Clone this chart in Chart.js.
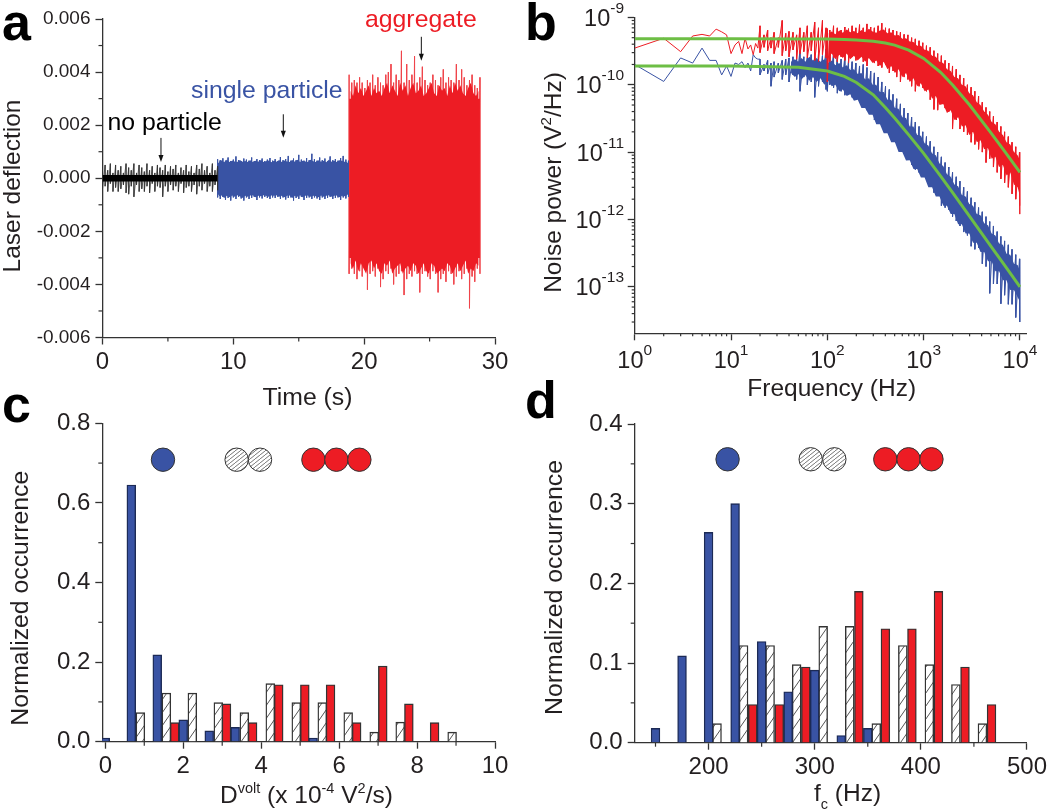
<!DOCTYPE html>
<html>
<head>
<meta charset="utf-8">
<title>Laser deflection, noise power and histograms</title>
<script src="https://cdn.jsdelivr.net/npm/chart.js@4"></script>
<style>
  html, body { margin: 0; background: #fff; }
  #page { position: relative; width: 1050px; height: 811px; overflow: hidden; }
  canvas { position: absolute; }
</style>
</head>
<body>
<div id="page">
  <canvas id="panelA" width="525" height="420" style="left:0;top:0"></canvas>
  <canvas id="panelB" width="525" height="420" style="left:525px;top:0"></canvas>
  <canvas id="panelC" width="525" height="436" style="left:0;top:375px"></canvas>
  <canvas id="panelD" width="525" height="436" style="left:525px;top:375px"></canvas>
</div>
<script>
// Panel a: time trace, envelope columns
const blackTimes = [0,0.2,0.4,0.6,0.8,1,1.2,1.4,1.6,1.8,2,2.2,2.4,2.6,2.8,3,3.2,3.4,3.6,3.8,4,4.2,4.4,4.6,4.8,5,5.2,5.4,5.6,5.8,6,6.2,6.4,6.6,6.8,7,7.2,7.4,7.6,7.8,8,8.2,8.4,8.6,8.8];
const blackHigh = [0.0004,0.0005,0.0003,0.00055,0.0002,0.0005,0.0003,0.00045,0.0002,0.00055,0.0004,0.0003,0.00055,0.0002,0.0005,0.0004,0.00025,0.00055,0.0003,0.00045,0.0002,0.0005,0.0004,0.0003,0.0005,0.00025,0.00045,0.00035,0.0005,0.0002,0.0004,0.0003,0.0005,0.00025,0.00045,0.0002,0.0005,0.00035,0.00055,0.0003,0.00045,0.0002,0.00055,0.0003,0.00045];
const blackLow = [-0.0004,-0.0003,-0.0005,-0.0002,-0.0005,-0.00035,-0.0005,-0.0004,-0.00025,-0.00055,-0.0006,-0.0003,-0.0007,-0.00025,-0.0005,-0.0004,-0.0005,-0.0003,-0.00055,-0.0002,-0.0005,-0.0003,-0.00035,-0.0007,-0.0003,-0.0005,-0.00025,-0.00045,-0.0003,-0.0005,-0.0002,-0.00055,-0.00035,-0.0003,-0.0005,-0.00025,-0.0006,-0.0003,-0.00045,-0.0002,-0.0005,-0.0003,-0.0005,-0.00025,-0.00045];
const blueTimes = [8.8,9,9.2,9.4,9.6,9.8,10,10.2,10.4,10.6,10.8,11,11.2,11.4,11.6,11.8,12,12.2,12.4,12.6,12.8,13,13.2,13.4,13.6,13.8,14,14.2,14.4,14.6,14.8,15,15.2,15.4,15.6,15.8,16,16.2,16.4,16.6,16.8,17,17.2,17.4,17.6,17.8,18,18.2,18.4,18.6,18.8];
const blueHigh = [0.00072,0.00068,0.00075,0.00066,0.00078,0.00065,0.0007,0.00082,0.00068,0.00064,0.00074,0.0007,0.00066,0.00078,0.00065,0.00072,0.00068,0.00074,0.00064,0.0007,0.00076,0.00066,0.00072,0.00064,0.0008,0.00068,0.00072,0.00084,0.00066,0.00074,0.00068,0.00088,0.0007,0.00066,0.00076,0.00068,0.00092,0.00072,0.00066,0.00078,0.00068,0.00074,0.00064,0.00082,0.00068,0.00072,0.00066,0.00076,0.00084,0.0007,0.00066];
const blueLow = [-0.00072,-0.00078,-0.0007,-0.00082,-0.00074,-0.00084,-0.00072,-0.00078,-0.0007,-0.00076,-0.00084,-0.00072,-0.00078,-0.00074,-0.0007,-0.00082,-0.00072,-0.00076,-0.0007,-0.00074,-0.00078,-0.00072,-0.00074,-0.0007,-0.00078,-0.00072,-0.0008,-0.00074,-0.00072,-0.00084,-0.00074,-0.00078,-0.0007,-0.00082,-0.00074,-0.00072,-0.00078,-0.00072,-0.00076,-0.00082,-0.00072,-0.00078,-0.00074,-0.0007,-0.00078,-0.00074,-0.00072,-0.00082,-0.00072,-0.00076,-0.0007];
const blueInnerTimes = [8.9,9.1,9.3,9.5,9.7,9.9,10.1,10.3,10.5,10.7,10.9,11.1,11.3,11.5,11.7,11.9,12.1,12.3,12.5,12.7,12.9,13.1,13.3,13.5,13.7,13.9,14.1,14.3,14.5,14.7,14.9,15.1,15.3,15.5,15.7,15.9,16.1,16.3,16.5,16.7,16.9,17.1,17.3,17.5,17.7,17.9,18.1,18.3,18.5,18.7];
const blueInnerHigh = [0.00062,0.00068,0.0006,0.0007,0.00061,0.00066,0.00063,0.00061,0.00069,0.00062,0.00065,0.00061,0.00068,0.0006,0.00066,0.00062,0.00069,0.00061,0.00064,0.00067,0.0006,0.00066,0.00062,0.00069,0.00061,0.00067,0.00063,0.00061,0.00069,0.00062,0.0007,0.00061,0.00066,0.00063,0.00061,0.0007,0.00064,0.00061,0.00068,0.00062,0.00066,0.0006,0.0007,0.00062,0.00066,0.00061,0.00068,0.00066,0.00062,0.00061];
const blueInnerLow = [-0.00068,-0.00065,-0.00074,-0.00066,-0.00072,-0.00065,-0.0007,-0.00064,-0.00068,-0.00074,-0.00066,-0.0007,-0.00065,-0.00064,-0.00072,-0.00066,-0.00068,-0.00064,-0.00066,-0.0007,-0.00065,-0.00066,-0.00064,-0.0007,-0.00066,-0.00072,-0.00066,-0.00065,-0.00074,-0.00066,-0.0007,-0.00064,-0.00072,-0.00066,-0.00065,-0.0007,-0.00066,-0.00068,-0.00072,-0.00065,-0.0007,-0.00066,-0.00064,-0.0007,-0.00066,-0.00065,-0.00072,-0.00066,-0.00068,-0.00064];
const redTimes = [18.85,19.05,19.25,19.45,19.65,19.85,20.05,20.25,20.45,20.65,20.85,21.05,21.25,21.45,21.65,21.85,22.05,22.25,22.45,22.65,22.85,23.05,23.25,23.45,23.65,23.85,24.05,24.25,24.45,24.65,24.85,25.05,25.25,25.45,25.65,25.85,26.05,26.25,26.45,26.65,26.85,27.05,27.25,27.45,27.65,27.85,28.05,28.25,28.45,28.65,28.85];
const redHigh = [0.0039,0.0036,0.0037,0.0036,0.0038,0.0036,0.0034,0.0037,0.0036,0.0039,0.0035,0.0038,0.0036,0.0035,0.0039,0.004,0.0043,0.0036,0.0039,0.0037,0.0048,0.0036,0.0043,0.0037,0.0039,0.0046,0.0036,0.0038,0.0042,0.0037,0.0035,0.0036,0.0039,0.0037,0.0035,0.0038,0.0041,0.0036,0.0038,0.0037,0.0036,0.0043,0.0037,0.0041,0.0038,0.0035,0.0037,0.0039,0.0035,0.0034,0.0038];
const redLow = [-0.0036,-0.0034,-0.0036,-0.0038,-0.0035,-0.0037,-0.0034,-0.0042,-0.0036,-0.0035,-0.0037,-0.0034,-0.0041,-0.0038,-0.0035,-0.0036,-0.0034,-0.004,-0.0037,-0.0036,-0.0035,-0.0044,-0.0038,-0.0036,-0.0037,-0.0035,-0.0036,-0.0043,-0.0036,-0.0035,-0.0037,-0.0038,-0.0035,-0.0036,-0.0043,-0.0038,-0.0036,-0.0039,-0.0035,-0.0036,-0.004,-0.0037,-0.0035,-0.0038,-0.0036,-0.0034,-0.0049,-0.0037,-0.0039,-0.0034,-0.0036];
const redInnerTimes = [18.95,19.15,19.35,19.55,19.75,19.95,20.15,20.35,20.55,20.75,20.95,21.15,21.35,21.55,21.75,21.95,22.15,22.35,22.55,22.75,22.95,23.15,23.35,23.55,23.75,23.95,24.15,24.35,24.55,24.75,24.95,25.15,25.35,25.55,25.75,25.95,26.15,26.35,26.55,26.75,26.95,27.15,27.35,27.55,27.75,27.95,28.15,28.35,28.55,28.75];
const redInnerHigh = [0.0033,0.0031,0.0035,0.0032,0.0034,0.0031,0.0033,0.0035,0.0031,0.0034,0.0032,0.0033,0.0031,0.0034,0.0036,0.0032,0.0035,0.0033,0.0031,0.0036,0.0033,0.0035,0.0031,0.0034,0.0036,0.0032,0.0033,0.0035,0.0031,0.0032,0.0034,0.0036,0.0032,0.0031,0.0035,0.0033,0.0034,0.0031,0.0035,0.0032,0.0036,0.0033,0.0035,0.0032,0.0031,0.0034,0.0036,0.0032,0.0031,0.0033];
const redInnerLow = [-0.0032,-0.0034,-0.0031,-0.0035,-0.0032,-0.0034,-0.0036,-0.0032,-0.0031,-0.0034,-0.0032,-0.0035,-0.0036,-0.0032,-0.0033,-0.0031,-0.0036,-0.0034,-0.0033,-0.0032,-0.0036,-0.0034,-0.0033,-0.0035,-0.0032,-0.0033,-0.0036,-0.0034,-0.0032,-0.0035,-0.0036,-0.0032,-0.0033,-0.0036,-0.0035,-0.0034,-0.0035,-0.0032,-0.0033,-0.0036,-0.0034,-0.0032,-0.0035,-0.0033,-0.0031,-0.0036,-0.0034,-0.0035,-0.0032,-0.0033];
const blackCoreTimes = [0, 8.8];
const blackCoreHigh = [0.00012, 0.00012];
const blackCoreLow = [-0.00012, -0.00012];
const blueCoreTimes = [8.8, 18.85];
const blueCoreHigh = [0.00058, 0.00058];
const blueCoreLow = [-0.00062, -0.00062];
const redCoreTimes = [18.85, 28.85];
const redCoreHigh = [0.003, 0.003];
const redCoreLow = [-0.003, -0.003];
const arrowTimes = [4.47, 13.82, 24.37];
const arrowStart = [0.00152, 0.00241, 0.00533];
const arrowEnd = [0.00061, 0.00153, 0.00443];

// Panel b: spectra. Integer bins at low frequency, then envelope columns
const lowFreqs = [1,2,3,4,5,6,7,8,9,10,11,12,13,14,15,16,17,18,19];
const redLowFreq = [3.5e-10,4.9e-10,3.1e-10,5.3e-10,5.6e-10,5.3e-10,6.7e-10,6.1e-10,5.5e-10,2.9e-10,3.9e-10,4.4e-10,2.9e-10,4.9e-10,3.4e-10,3.9e-10,2.8e-10,4.1e-10,3.5e-10];
const blueLowFreq = [2e-10,1.12e-10,2.5e-10,2.1e-10,3.5e-10,2.3e-10,2.3e-10,1.4e-10,1.9e-10,1.33e-10,2.1e-10,2e-10,2.2e-10,1.8e-10,2.1e-10,1.6e-10,2.8e-10,2.5e-10,2.4e-10];
const noiseFreqs = [20,22,24,26,28,31,34,37,40,44,48,52,57,62,68,74,81,89,97,100,106,116,127,139,152,166,181,198,216,236,258,282,308,337,368,402,440,481,525,574,627,686,750,820,896,979,1070,1170,1279,1398,1528,1670,1825,1995,2180,2383,2605,2847,3112,3401,3718,4063,4441,4854,5305,5798,6337,6927,7571,8275,9044,9885,10000];
const redNoiseHigh = [7.5e-10,5.5e-10,6.5e-10,5e-10,6e-10,5e-10,9e-10,5.8e-10,6.2e-10,6e-10,5.5e-10,7e-10,6e-10,7.5e-10,6e-10,8.5e-10,7e-10,9e-10,7e-10,6.8e-10,6.5e-10,7.5e-10,7e-10,6.5e-10,7.2e-10,6.8e-10,7.5e-10,7e-10,7.8e-10,7e-10,8e-10,7.2e-10,7e-10,7.5e-10,8.2e-10,7e-10,6.8e-10,6.5e-10,6.2e-10,6e-10,5.6e-10,5.5e-10,5e-10,4.8e-10,4.5e-10,4.2e-10,3.8e-10,3.6e-10,3.2e-10,2.9e-10,2.7e-10,2.3e-10,2.1e-10,1.9e-10,1.7e-10,1.4e-10,1.25e-10,1e-10,9.2e-11,8e-11,6.8e-11,5.5e-11,4.6e-11,4e-11,3.4e-11,2.8e-11,2.4e-11,2e-11,1.7e-11,1.4e-11,1.2e-11,1e-11,9.5e-12];
const redNoiseLow = [3e-10,3.6e-10,3.2e-10,3.5e-10,2.9e-10,3.6e-10,2.7e-10,3.2e-10,2.6e-10,3.3e-10,2.4e-10,2.9e-10,3.1e-10,2.5e-10,3.2e-10,2.3e-10,2.2e-10,2.8e-10,2.5e-10,1.1e-10,2.2e-10,2.5e-10,2.2e-10,2.6e-10,2.3e-10,2.1e-10,2.6e-10,2.3e-10,2.5e-10,2.2e-10,1.9e-10,2.4e-10,2.1e-10,1.9e-10,1.8e-10,2e-10,1.5e-10,1.6e-10,1.3e-10,1.1e-10,1.3e-10,1.2e-10,9.5e-11,8e-11,9.5e-11,9e-11,8e-11,6e-11,4.3e-11,4.2e-11,5.5e-11,4.5e-11,4e-11,2.2e-11,3e-11,2.2e-11,2e-11,1.8e-11,1.4e-11,1.3e-11,1.1e-11,1e-11,7e-12,8e-12,6e-12,5e-12,4e-12,3.5e-12,3e-12,2.4e-12,2e-12,1.2e-12,1.6e-12];
const blueNoiseHigh = [2.4e-10,2e-10,2.3e-10,2.1e-10,2.2e-10,2.1e-10,2.3e-10,2.4e-10,2.5e-10,2.6e-10,2.4e-10,3.2e-10,2.6e-10,2.5e-10,2.8e-10,2.6e-10,2.9e-10,2.7e-10,3.4e-10,2.4e-10,2.6e-10,3e-10,2.5e-10,2.4e-10,2.6e-10,2.3e-10,2.2e-10,2.1e-10,1.9e-10,2e-10,1.8e-10,1.6e-10,1.5e-10,1.3e-10,1.1e-10,9.5e-11,8.5e-11,7.2e-11,6.2e-11,5.2e-11,4.5e-11,3.8e-11,3.3e-11,2.8e-11,2.4e-11,2e-11,1.7e-11,1.45e-11,1.2e-11,1e-11,8.5e-12,7e-12,6e-12,5e-12,4.3e-12,3.7e-12,3e-12,2.6e-12,2.1e-12,1.8e-12,1.5e-12,1.3e-12,1.1e-12,9.3e-13,8e-13,6.6e-13,5.6e-13,4.8e-13,4.2e-13,3.6e-13,3e-13,2.6e-13,2.4e-13];
const blueNoiseLow = [1.4e-10,1.6e-10,1.45e-10,9.5e-11,1.3e-10,1.5e-10,1.2e-10,1.4e-10,1.1e-10,1.4e-10,1.2e-10,8e-11,1.3e-10,1e-10,1.1e-10,6.5e-11,9.5e-11,1.1e-10,8.5e-11,8e-11,1e-10,9e-11,7.5e-11,8e-11,7e-11,7.5e-11,6.5e-11,6e-11,5.5e-11,5e-11,4.2e-11,4e-11,3e-11,2.8e-11,2.8e-11,2e-11,2.2e-11,1.6e-11,1.5e-11,1.2e-11,1.1e-11,8e-12,6.5e-12,5.5e-12,5e-12,5e-12,4e-12,3.5e-12,2.5e-12,2.4e-12,1.6e-12,1.5e-12,1.4e-12,1.1e-12,9.5e-13,8e-13,6.5e-13,5.8e-13,4e-13,3.6e-13,3.8e-13,2.2e-13,2e-13,8e-14,1.1e-13,1.1e-13,5.6e-14,7.5e-14,5.5e-14,5.5e-14,3.5e-14,3e-14,3e-14];
// solid part of each band, ragged edge between the columns above
const redBandFreqs = [103,111,121,133,145,159,173,189,207,226,247,270,295,322,352,385,421,460,503,549,600,656,717,784,857,936,1023,1119,1224,1337,1462,1598,1746,1909,2085,2280,2492,2725,2978,3256,3560,3891,4254,4650,5084,5557,6074,6640,7258,7933,8670,9463,10000];
const redBandHigh = [5.8e-10,6.2e-10,5.6e-10,6.4e-10,5.9e-10,6.6e-10,6e-10,6.3e-10,5.8e-10,6.5e-10,6e-10,6.8e-10,6.2e-10,5.9e-10,6.4e-10,6.6e-10,5.8e-10,6e-10,5.4e-10,5.5e-10,4.8e-10,4.9e-10,4.4e-10,4.3e-10,3.8e-10,3.8e-10,3.3e-10,3.2e-10,2.7e-10,2.6e-10,2.2e-10,2.1e-10,1.7e-10,1.6e-10,1.3e-10,1.25e-10,1e-10,9.5e-11,7.5e-11,7e-11,5.5e-11,5e-11,4e-11,3.6e-11,2.8e-11,2.6e-11,2e-11,1.8e-11,1.4e-11,1.3e-11,1e-11,9e-12,7.5e-12];
const redBandLow = [2.6e-10,2.9e-10,2.4e-10,2.8e-10,2.5e-10,2.9e-10,2.4e-10,2.7e-10,2.3e-10,2.6e-10,2.2e-10,2.5e-10,2.1e-10,2.3e-10,1.9e-10,2.2e-10,1.7e-10,1.9e-10,1.5e-10,1.7e-10,1.3e-10,1.5e-10,1.1e-10,1.25e-10,9.5e-11,1.05e-10,8e-11,8.5e-11,6.2e-11,6.8e-11,5e-11,5.2e-11,3.8e-11,4.2e-11,3e-11,3.3e-11,2.4e-11,2.5e-11,1.8e-11,2e-11,1.4e-11,1.5e-11,1.1e-11,1.15e-11,8e-12,8.5e-12,6e-12,6.5e-12,4.5e-12,5e-12,3.3e-12,3e-12,2.2e-12];
const blueBandFreqs = [42,46,50,54,59,65,71,77,85,93,103,111,121,133,145,159,173,189,207,226,247,270,295,322,352,385,421,460,503,549,600,656,717,784,857,936,1023,1119,1224,1337,1462,1598,1746,1909,2085,2280,2492,2725,2978,3256,3560,3891,4254,4650,5084,5557,6074,6640,7258,7933,8670,9463,10000];
const blueBandHigh = [2.2e-10,2.4e-10,2.2e-10,2.5e-10,2.2e-10,2.6e-10,2.3e-10,2.5e-10,2.2e-10,2.4e-10,2.1e-10,2.3e-10,1.95e-10,2.1e-10,1.8e-10,1.95e-10,1.65e-10,1.7e-10,1.45e-10,1.5e-10,1.2e-10,1.25e-10,1e-10,1e-10,7.8e-11,7.8e-11,6e-11,6e-11,4.5e-11,4.4e-11,3.3e-11,3.2e-11,2.4e-11,2.4e-11,1.8e-11,1.75e-11,1.35e-11,1.25e-11,9.5e-12,9e-12,6.8e-12,6.2e-12,4.7e-12,4.3e-12,3.3e-12,3.1e-12,2.3e-12,2.2e-12,1.7e-12,1.6e-12,1.2e-12,1.15e-12,8.8e-13,8.2e-13,6.2e-13,5.8e-13,4.4e-13,4.2e-13,3.1e-13,3e-13,2.2e-13,2.1e-13,1.7e-13];
const blueBandLow = [1.5e-10,1.3e-10,1.45e-10,1.2e-10,1.4e-10,1.15e-10,1.3e-10,1.1e-10,1.25e-10,1e-10,1.15e-10,9.5e-11,1e-10,8e-11,8.5e-11,6.8e-11,7.2e-11,5.8e-11,6e-11,4.5e-11,4.5e-11,3.6e-11,3.6e-11,2.6e-11,2.6e-11,1.9e-11,1.9e-11,1.4e-11,1.4e-11,1e-11,1e-11,7.5e-12,7.6e-12,5.6e-12,5.6e-12,4.2e-12,4.2e-12,3e-12,3e-12,2.2e-12,2.2e-12,1.6e-12,1.6e-12,1.2e-12,1.2e-12,8.5e-13,8.5e-13,6.2e-13,6.2e-13,4.5e-13,4.5e-13,3.3e-13,3.3e-13,2.4e-13,2.4e-13,1.7e-13,1.7e-13,1.25e-13,1.25e-13,9e-14,9e-14,7e-14,6e-14];
const fitFreqs = [1,10,50,100,150,200,300,400,500,700,1000,1500,2000,3000,5000,7000,10000];
const redFit = [4.8e-10,4.8e-10,4.79e-10,4.76e-10,4.7e-10,4.62e-10,4.42e-10,4.17e-10,3.88e-10,3.27e-10,2.46e-10,1.53e-10,9.9e-11,5e-11,1.93e-11,1.01e-11,5e-12];
const blueFit = [1.9e-10,1.9e-10,1.82e-10,1.6e-10,1.33e-10,1.08e-10,7.1e-11,4.6e-11,3.2e-11,1.8e-11,9.6e-12,4.4e-12,2.5e-12,1.11e-12,4e-13,2.05e-13,1e-13];
const freqExponents = [0,1,2,3,4];
const powerExponents = [-9,-10,-11,-12,-13];

// Panel c: histogram of D volt
const dBlueBins = [0,0.667,1.333,2,2.667,3.333,5.333];
const dBlueValues = [0.009,0.645,0.218,0.055,0.027,0.036,0.009];
const dHatchBins = [0.9,1.567,2.233,2.9,3.567,4.233,4.9,5.567,6.233,6.9,7.567,8.9];
const dHatchValues = [0.073,0.122,0.122,0.098,0.073,0.146,0.098,0.098,0.073,0.024,0.049,0.024];
const dRedBins = [1.78,3.11,3.78,4.45,5.12,5.78,6.45,7.12,7.79,8.45];
const dRedValues = [0.048,0.095,0.048,0.143,0.143,0.143,0.048,0.19,0.095,0.048];
const dBlueCircleX = [1.48];
const dHatchCircleX = [3.37,3.97];
const dRedCircleX = [5.34,5.93,6.52];
const dCircleY = 0.7085;

// Panel d: histogram of corner frequency
const fBlueBins = [150,175,200,225,250,275,300,325,350];
const fBlueValues = [0.018,0.109,0.264,0.3,0.127,0.064,0.091,0.009,0.018];
const fHatchBins = [208,233,258,283,308,333,358,383,408,433,458];
const fHatchValues = [0.024,0.122,0.122,0.098,0.146,0.146,0.024,0.122,0.098,0.073,0.024];
const fRedBins = [241.6,266.6,291.6,341.6,366.6,391.6,416.6,441.6,466.6];
const fRedValues = [0.048,0.048,0.095,0.19,0.143,0.143,0.19,0.095,0.048];
const fBlueCircleX = [217.9];
const fHatchCircleX = [296.2,318.5];
const fRedCircleX = [366.5,388.4,410];
const fCircleY = 0.3557;

const RED = '#ed1c24', BLUE = '#3953a4', GREEN = '#6dbe45', INK = '#231f20', AXIS = '#333333';
const FONT = '"Liberation Sans", Arial, sans-serif';

const pairs = (xs, ys) => xs.map((x, i) => ({ x, y: ys[i] }));
// one column per x, from the high value to the low value
function zigzag(xs, highs, lows) {
  const pts = [];
  xs.forEach((x, i) => { pts.push({ x, y: highs[i] }); pts.push({ x, y: lows[i] }); });
  return pts;
}
function traceSet(data, color, width) {
  return { data, borderColor: color, borderWidth: width, pointRadius: 0, tension: 0, fill: false };
}
function bandSets(xs, highs, lows, color) {
  return [
    { data: pairs(xs, highs), borderColor: color, backgroundColor: color, borderWidth: 0, pointRadius: 0, tension: 0, fill: '+1' },
    { data: pairs(xs, lows), borderColor: color, borderWidth: 0, pointRadius: 0, tension: 0, fill: false }
  ];
}

function hatch(w, h, color, lineWidth) {
  const c = document.createElement('canvas');
  c.width = w; c.height = h;
  const g = c.getContext('2d');
  g.fillStyle = '#fff';
  g.fillRect(0, 0, w, h);
  g.strokeStyle = color;
  g.lineWidth = lineWidth;
  [-w, 0, w].forEach(dx => {
    g.beginPath();
    g.moveTo(dx, h);
    g.lineTo(dx + w, 0);
    g.stroke();
  });
  return g.createPattern(c, 'repeat');
}
const barHatch = hatch(9, 13, '#555', 1);
const circleHatch = hatch(5, 4, '#666', 0.9);

// mixed size text: parts are {t, s, dy}
function richText(ctx, parts, x, y, align, rotate) {
  ctx.save();
  ctx.translate(x, y);
  if (rotate) ctx.rotate(-Math.PI / 2);
  ctx.textAlign = 'left';
  ctx.textBaseline = 'alphabetic';
  let total = 0;
  const widths = parts.map(p => {
    ctx.font = (p.b ? 'bold ' : '') + p.s + 'px ' + FONT;
    const w = ctx.measureText(p.t).width + (p.gap || 0);
    total += w;
    return w;
  });
  let cx = align === 'center' ? -total / 2 : align === 'right' ? -total : 0;
  parts.forEach((p, i) => {
    ctx.font = (p.b ? 'bold ' : '') + p.s + 'px ' + FONT;
    ctx.fillStyle = p.c || INK;
    ctx.fillText(p.t, cx, p.dy || 0);
    cx += widths[i];
  });
  ctx.restore();
}

const decor = {
  id: 'decor',
  afterDatasetsDraw(chart, args, opts) {
    const ctx = chart.ctx;
    const { x: xs, y: ys } = chart.scales;
    ctx.save();
    ctx.strokeStyle = AXIS;
    ctx.lineWidth = 1.2;
    (opts.minorX || []).forEach(v => {
      const px = xs.getPixelForValue(v);
      ctx.beginPath(); ctx.moveTo(px, ys.bottom); ctx.lineTo(px, ys.bottom + (opts.minorLen || 4)); ctx.stroke();
    });
    (opts.minorY || []).forEach(v => {
      const py = ys.getPixelForValue(v);
      ctx.beginPath(); ctx.moveTo(xs.left, py); ctx.lineTo(xs.left - (opts.minorLen || 4), py); ctx.stroke();
    });
    // arrows
    ctx.strokeStyle = '#111';
    ctx.fillStyle = '#111';
    ctx.lineWidth = 1;
    (opts.arrows || []).forEach(a => {
      const px = xs.getPixelForValue(a.x), y0 = ys.getPixelForValue(a.from), y1 = ys.getPixelForValue(a.to);
      ctx.beginPath(); ctx.moveTo(px, y0); ctx.lineTo(px, y1 - 6); ctx.stroke();
      ctx.beginPath(); ctx.moveTo(px - 2.5, y1 - 7); ctx.lineTo(px + 2.5, y1 - 7); ctx.lineTo(px, y1); ctx.closePath(); ctx.fill();
    });
    ctx.restore();
    (opts.expX || []).forEach(n => richText(ctx, [{ t: '10', s: 23.5 }, { t: String(n), s: 15.5, dy: -13 }], xs.getPixelForValue(Math.pow(10, n)), opts.expXBase, 'center'));
    (opts.expY || []).forEach(n => richText(ctx, [{ t: '10', s: 23.5 }, { t: String(n), s: 15.5, dy: -13 }], opts.expYRight, ys.getPixelForValue(Math.pow(10, n)) + 8.5, 'right'));
    (opts.texts || []).forEach(t => richText(ctx, t.parts, t.x, t.y, t.align, t.rotate));
  }
};
Chart.register(decor);

function axis(min, max, opts) {
  const o = Object.assign({
    type: 'linear', min, max, offset: false,
    border: { color: AXIS, width: 1.3 },
    grid: { drawOnChartArea: false, drawTicks: true, tickLength: 7, tickColor: AXIS, tickWidth: 1.3, offset: false },
    ticks: {}
  }, opts);
  o.ticks = Object.assign({
    color: INK, font: { family: FONT, size: 24 }, padding: 3, maxRotation: 0, autoSkip: false, includeBounds: false
  }, opts.ticks);
  return o;
}
function frame(type, data, box, scales, decorOpts) {
  scales.x.afterFit = s => { s.height = box.h - box.bottom; };
  scales.y.afterFit = s => { s.width = box.left; };
  return {
    type, data,
    options: {
      responsive: false,
      animation: false,
      events: [],
      layout: { autoPadding: false, padding: { left: 0, top: box.top, right: box.w - box.right, bottom: 0 } },
      plugins: { legend: { display: false }, tooltip: { enabled: false }, decor: decorOpts },
      scales
    }
  };
}

// ---- panel a
new Chart(document.getElementById('panelA'), frame('line', {
  datasets: [
    ...bandSets(blackCoreTimes, blackCoreHigh, blackCoreLow, '#000'),
    traceSet(zigzag(blackTimes, blackHigh, blackLow), '#333', 0.7),
    ...bandSets(blueCoreTimes, blueCoreHigh, blueCoreLow, BLUE),
    ...bandSets(blueInnerTimes, blueInnerHigh, blueInnerLow, BLUE),
    traceSet(zigzag(blueTimes, blueHigh, blueLow), BLUE, 0.8),
    ...bandSets(redCoreTimes, redCoreHigh, redCoreLow, RED),
    ...bandSets(redInnerTimes, redInnerHigh, redInnerLow, RED),
    traceSet(zigzag(redTimes, redHigh, redLow), '#f0444a', 0.8)
  ]
}, { w: 525, h: 420, left: 102.5, right: 495, top: 19, bottom: 337.5 }, {
  x: axis(0, 30, { ticks: { stepSize: 10 } }),
  y: axis(-0.006, 0.006, { ticks: { stepSize: 0.002, padding: 5, font: { family: FONT, size: 19 }, callback: v => v.toFixed(3) } })
}, {
  minorX: [5, 15, 25],
  minorY: [-0.005, -0.003, -0.001, 0.001, 0.003, 0.005],
  arrows: arrowTimes.map((x, i) => ({ x, from: arrowStart[i], to: arrowEnd[i] })),
  texts: [
    { parts: [{ t: 'a', s: 52, b: true, c: '#000' }], x: 2, y: 40 },
    { parts: [{ t: 'no particle', s: 24.8, c: '#000' }], x: 107.5, y: 130 },
    { parts: [{ t: 'single particle', s: 24.8, c: BLUE }], x: 191, y: 98 },
    { parts: [{ t: 'aggregate', s: 24.8, c: RED }], x: 365, y: 27 },
    { parts: [{ t: 'Time (s)', s: 24.8 }], x: 307.5, y: 405, align: 'center' },
    { parts: [{ t: 'Laser deflection', s: 24.5 }], x: 19.5, y: 186, align: 'center', rotate: true }
  ]
}));

// ---- panel b
const logMinors = [];
[1, 10, 100, 1000].forEach(d => [2,3,4,5,6,7,8,9].forEach(m => logMinors.push(d * m)));
const powerMinors = [];
[1e-10, 1e-11, 1e-12, 1e-13].forEach(d => [2,3,4,5,6,7,8,9].forEach(m => powerMinors.push(d * m)));
[3e-14, 4e-14, 5e-14, 6e-14, 7e-14, 8e-14, 9e-14].forEach(v => powerMinors.push(v));

new Chart(document.getElementById('panelB'), frame('line', {
  datasets: [
    traceSet(pairs(fitFreqs, redFit), GREEN, 3),
    traceSet(pairs(fitFreqs, blueFit), GREEN, 3),
    ...bandSets(redBandFreqs, redBandHigh, redBandLow, RED),
    traceSet(pairs(lowFreqs, redLowFreq).concat(zigzag(noiseFreqs, redNoiseHigh, redNoiseLow)), RED, 1),
    ...bandSets(blueBandFreqs, blueBandHigh, blueBandLow, BLUE),
    traceSet(pairs(lowFreqs, blueLowFreq).concat(zigzag(noiseFreqs, blueNoiseHigh, blueNoiseLow)), BLUE, 1)
  ]
}, { w: 525, h: 420, left: 109.7, right: 501.7, top: 15.7, bottom: 333.3 }, {
  x: axis(1, 11749, {
    type: 'logarithmic',
    afterBuildTicks: s => { s.ticks = freqExponents.map(n => ({ value: Math.pow(10, n) })); },
    ticks: { callback: () => '' }
  }),
  y: axis(2.04e-14, 1e-9, {
    type: 'logarithmic',
    afterBuildTicks: s => { s.ticks = powerExponents.map(n => ({ value: Math.pow(10, n) })); },
    ticks: { callback: () => '' }
  })
}, {
  minorX: logMinors,
  minorY: powerMinors,
  minorLen: 3,
  expX: freqExponents,
  expXBase: 368,
  expY: powerExponents,
  expYRight: 99,
  texts: [
    { parts: [{ t: 'b', s: 52, b: true, c: '#000' }], x: 0, y: 40 },
    { parts: [{ t: 'Frequency (Hz)', s: 24.5 }], x: 306.7, y: 396, align: 'center' },
    { parts: [{ t: 'Noise power (V', s: 24.5 }, { t: '2', s: 15, dy: -10 }, { t: '/Hz)', s: 24.5 }], x: 36, y: 182.5, align: 'center', rotate: true }
  ]
}));

// ---- histograms
function barSet(xs, ys, fill, edge) {
  return { data: pairs(xs, ys), backgroundColor: fill, borderColor: edge, borderWidth: 1.4, barThickness: 8.8, grouped: false };
}
function circleSet(xs, y, fill) {
  return { type: 'scatter', data: xs.map(x => ({ x, y })), backgroundColor: fill, borderColor: '#333', borderWidth: 1, pointRadius: 11.7, pointStyle: 'circle' };
}

new Chart(document.getElementById('panelC'), frame('bar', {
  datasets: [
    circleSet(dBlueCircleX, dCircleY, BLUE),
    circleSet(dHatchCircleX, dCircleY, circleHatch),
    circleSet(dRedCircleX, dCircleY, RED),
    barSet(dBlueBins, dBlueValues, BLUE, '#1c2a55'),
    barSet(dHatchBins, dHatchValues, barHatch, '#333'),
    barSet(dRedBins, dRedValues, RED, '#333')
  ]
}, { w: 525, h: 436, left: 102.3, right: 495, top: 48.3, bottom: 366.7 }, {
  x: axis(-0.077, 10, { ticks: { stepSize: 2 } }),
  y: axis(0, 0.8, { ticks: { stepSize: 0.2, padding: 5, callback: v => v.toFixed(1) } })
}, {
  minorX: [1, 3, 5, 7, 9],
  minorY: [0.1, 0.3, 0.5, 0.7],
  texts: [
    { parts: [{ t: 'c', s: 52, b: true, c: '#000' }], x: 2, y: 47 },
    { parts: [{ t: 'Normalized occurrence', s: 24.8 }], x: 28, y: 223.3, align: 'center', rotate: true },
    { parts: [{ t: 'D', s: 24.5 }, { t: 'volt', s: 14.5, dy: -10 }, { t: ' (x 10', s: 24.5 }, { t: '-4', s: 14.5, dy: -10 }, { t: ' V', s: 24.5 }, { t: '2', s: 14.5, dy: -10 }, { t: '/s)', s: 24.5 }], x: 220, y: 427.7 }
  ]
}));

new Chart(document.getElementById('panelD'), frame('bar', {
  datasets: [
    circleSet(fBlueCircleX, fCircleY, BLUE),
    circleSet(fHatchCircleX, fCircleY, circleHatch),
    circleSet(fRedCircleX, fCircleY, RED),
    barSet(fBlueBins, fBlueValues, BLUE, '#1c2a55'),
    barSet(fHatchBins, fHatchValues, barHatch, '#333'),
    barSet(fRedBins, fRedValues, RED, '#333')
  ]
}, { w: 525, h: 436, left: 109.7, right: 502.7, top: 49, bottom: 367.7 }, {
  x: axis(130.4, 500, { ticks: { stepSize: 100 } }),
  y: axis(0, 0.4, { ticks: { stepSize: 0.1, padding: 5, callback: v => v.toFixed(1) } })
}, {
  minorX: [150, 250, 350, 450],
  minorY: [0.05, 0.15, 0.25, 0.35],
  texts: [
    { parts: [{ t: 'd', s: 52, b: true, c: '#000' }], x: 0, y: 43 },
    { parts: [{ t: 'Normalized occurrence', s: 24.8 }], x: 37.3, y: 212.5, align: 'center', rotate: true },
    { parts: [{ t: 'f', s: 24.5 }, { t: 'c', s: 14.5, dy: 8 }, { t: ' (Hz)', s: 24.5 }], x: 289, y: 425.7 }
  ]
}));
</script>
</body>
</html>
